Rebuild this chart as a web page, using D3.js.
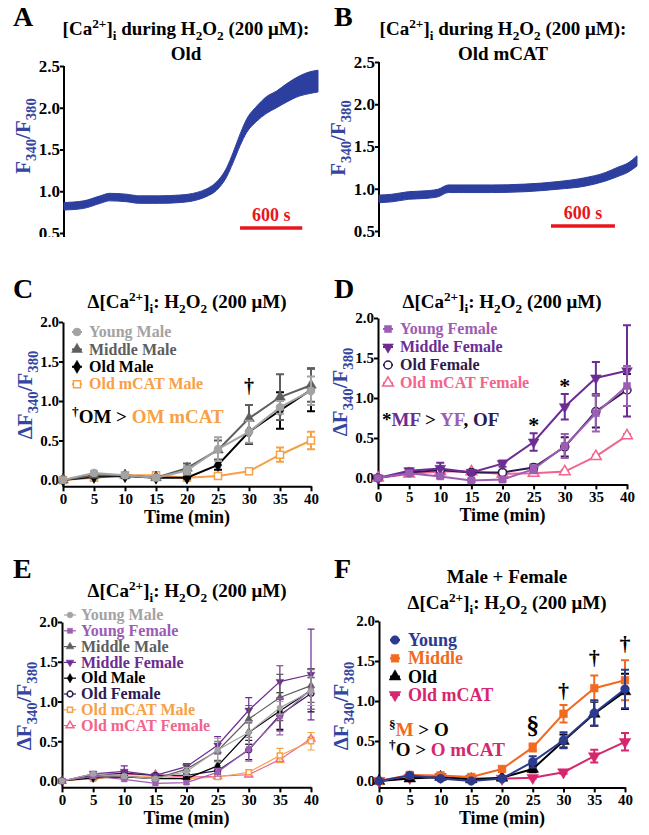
<!DOCTYPE html>
<html>
<head>
<meta charset="utf-8">
<script src="https://cdn.jsdelivr.net/npm/d3@7"></script>
<style>
  body { margin: 0; background: #fff; }
  svg { display: block; }
</style>
</head>
<body>
<svg id="fig" width="649" height="835"></svg>
<script>
// ---- data ----
const times = [0, 5, 10, 15, 20, 25, 30, 35, 40];
const yTicks = [0, 0.5, 1.0, 1.5, 2.0];
const traceTicks = [0.5, 1.0, 1.5, 2.0, 2.5];
const scaleBarSec = 600;

// A: Old, raw ratio trace (centre of the noisy band + half width)
const oldTraceTime = [0, 190, 350, 440, 600, 730, 920, 1120, 1280, 1370, 1470, 1570, 1630, 1700, 1760, 1860, 1950, 2050, 2150, 2270, 2370, 2450];
const oldTraceMean = [0.82, 0.84, 0.90, 0.93, 0.92, 0.90, 0.90, 0.91, 0.94, 0.98, 1.06, 1.23, 1.40, 1.62, 1.78, 1.93, 2.03, 2.10, 2.18, 2.26, 2.30, 2.32];
const oldTraceSpread = [0.045, 0.045, 0.045, 0.045, 0.045, 0.045, 0.045, 0.045, 0.045, 0.045, 0.05, 0.055, 0.06, 0.07, 0.08, 0.09, 0.10, 0.10, 0.11, 0.12, 0.13, 0.13];

// B: Old mCAT trace
const mcatTraceTime = [0, 120, 275, 430, 555, 650, 745, 1055, 1370, 1680, 1930, 2120, 2240, 2335, 2420];
const mcatTraceMean = [0.88, 0.89, 0.92, 0.93, 0.95, 1.00, 1.00, 1.00, 1.01, 1.04, 1.08, 1.14, 1.20, 1.25, 1.33];
const mcatTraceSpread = [0.045, 0.045, 0.045, 0.045, 0.045, 0.045, 0.045, 0.045, 0.045, 0.045, 0.05, 0.05, 0.055, 0.055, 0.06];

// C: males (mean, SEM)
const youngMale      = [0, 0.09, 0.06, 0.03, 0.12, 0.39, 0.61, 0.92, 1.13];
const youngMaleErr   = [0, 0.02, 0.02, 0.02, 0.05, 0.15, 0.14, 0.08, 0.18];
const middleMale     = [0, 0.06, 0.06, 0.03, 0.15, 0.38, 0.78, 1.05, 1.20];
const middleMaleErr  = [0, 0.02, 0.02, 0.02, 0.06, 0.12, 0.17, 0.29, 0.21];
const oldMale        = [0, 0.04, 0.05, 0.03, 0.03, 0.19, 0.61, 0.88, 1.14];
const oldMaleErr     = [0, 0.01, 0.02, 0.01, 0.01, 0.06, 0.15, 0.23, 0.27];
const mcatMale       = [0, 0.03, 0.06, 0.06, 0.03, 0.05, 0.11, 0.32, 0.50];
const mcatMaleErr    = [0, 0.02, 0.02, 0.02, 0.01, 0.03, 0.03, 0.09, 0.11];

// D: females
const youngFemale     = [0, 0.06, 0.02, -0.03, -0.02, 0.11, 0.40, 0.81, 1.15];
const youngFemaleErr  = [0, 0.02, 0.02, 0.02, 0.02, 0.05, 0.15, 0.23, 0.25];
const middleFemale    = [0, 0.09, 0.12, 0.07, 0.18, 0.45, 0.89, 1.25, 1.34];
const middleFemaleErr = [0, 0.03, 0.07, 0.02, 0.04, 0.11, 0.16, 0.20, 0.57];
const oldFemale       = [0, 0.07, 0.10, 0.07, 0.07, 0.13, 0.39, 0.83, 1.10];
const oldFemaleErr    = [0, 0.02, 0.03, 0.02, 0.02, 0.04, 0.12, 0.20, 0.20];
const mcatFemale      = [0, 0.05, 0.08, 0.08, 0.05, 0.06, 0.08, 0.27, 0.53];
const mcatFemaleErr   = [0, 0.01, 0.01, 0.01, 0.01, 0.01, 0.02, 0.02, 0.02];

// F: male + female
const young       = [0, 0.07, 0.03, 0.00, 0.03, 0.24, 0.51, 0.85, 1.15];
const youngErr    = [0, 0.02, 0.02, 0.01, 0.02, 0.07, 0.10, 0.16, 0.24];
const middle      = [0, 0.075, 0.07, 0.05, 0.15, 0.42, 0.84, 1.16, 1.26];
const middleErr   = [0, 0.02, 0.02, 0.02, 0.03, 0.05, 0.11, 0.16, 0.25];
const old         = [0, 0.03, 0.05, 0.02, 0.04, 0.15, 0.50, 0.84, 1.12];
const oldErr      = [0, 0.01, 0.02, 0.01, 0.01, 0.04, 0.08, 0.15, 0.22];
const oldMcat     = [0, 0.04, 0.05, 0.03, 0.03, 0.04, 0.11, 0.31, 0.49];
const oldMcatErr  = [0, 0.01, 0.01, 0.01, 0.01, 0.01, 0.02, 0.08, 0.11];

// ---- styles ----
const FONT = '"Liberation Serif","Times New Roman",serif';
const BLUE = '#3546a0';
const TRACE = '#2d3f9e';
const RED = '#e8161c';

const style = {
  'Young Male':      { color: '#a3a3a3', shape: d3.symbolCircle },
  'Middle Male':     { color: '#5e5e5e', shape: d3.symbolTriangle },
  'Old Male':        { color: '#000000', shape: d3.symbolDiamond },
  'Old mCAT Male':   { color: '#f7a045', shape: d3.symbolSquare, open: true },
  'Young Female':    { color: '#9d5db3', shape: d3.symbolSquare },
  'Middle Female':   { color: '#6d2c93', shape: d3.symbolTriangle, rot: 180 },
  'Old Female':      { color: '#2e1a50', shape: d3.symbolCircle, open: true },
  'Old mCAT Female': { color: '#f2648c', shape: d3.symbolTriangle, open: true },
  'Young':           { color: '#2b3a8e', shape: d3.symbolCircle },
  'Middle':          { color: '#f26a22', shape: d3.symbolSquare },
  'Old':             { color: '#000000', shape: d3.symbolTriangle },
  'Old mCAT':        { color: '#d6276e', shape: d3.symbolTriangle, rot: 180 }
};

const svg = d3.select('#fig')
  .attr('font-family', FONT)
  .attr('font-weight', 'bold');

svg.append('rect').attr('width', 649).attr('height', 835).attr('fill', '#fff');

// text with sub/superscripts; parts = [text, kind, colour]
function rich(text, parts, size) {
  let shift = 0;
  parts.forEach(([t, kind, col]) => {
    const off = kind === 'sub' ? size * 0.28 : kind === 'sup' ? -size * 0.38 : 0;
    const ts = text.append('tspan').text(t)
      .attr('dy', off - shift)
      .attr('font-size', kind ? size * 0.7 : size);
    if (col) ts.attr('fill', col);
    shift = off;
  });
  return text;
}

function addText(x, y, parts, size, anchor, fill) {
  const t = svg.append('text')
    .attr('x', x).attr('y', y)
    .attr('text-anchor', anchor || 'start')
    .attr('fill', fill || '#000')
    .attr('font-size', size);
  return rich(t, parts, size);
}

function yLabel(x, y, parts) {
  const t = svg.append('text')
    .attr('transform', `translate(${x},${y}) rotate(-90)`)
    .attr('text-anchor', 'middle')
    .attr('fill', BLUE)
    .attr('font-size', 21);
  rich(t, parts, 21);
}

function styleAxis(g, size) {
  g.attr('font-family', FONT).attr('font-size', size).attr('font-weight', 'bold');
  g.select('.domain').attr('stroke-width', 2);
  g.selectAll('.tick line').attr('stroke-width', 2);
  g.selectAll('.tick text').attr('fill', '#000');
}

const caTitle = [['Δ[Ca'], ['2+', 'sup'], [']'], ['i', 'sub'], [': H'], ['2', 'sub'], ['O'], ['2', 'sub'], [' (200 μM)']];
const duringTitle = [['[Ca'], ['2+', 'sup'], [']'], ['i', 'sub'], [' during H'], ['2', 'sub'], ['O'], ['2', 'sub'], [' (200 μM):']];
const ratioLabel = [['F'], ['340', 'sub'], ['/F'], ['380', 'sub']];
const deltaLabel = [['ΔF'], ['340', 'sub'], ['/F'], ['380', 'sub']];

// ---- A / B raw traces ----
function drawTrace(p) {
  const clipId = 'clip' + p.letter;
  svg.append('clipPath').attr('id', clipId)
    .append('rect').attr('x', p.left - 60).attr('y', 0).attr('width', 330).attr('height', 237);
  const g = svg.append('g').attr('clip-path', `url(#${clipId})`);

  const x = d3.scaleLinear().domain([0, p.time[p.time.length - 1]]).range([p.left, p.right]);
  const y = d3.scaleLinear().domain([0.5, 2.5]).range([p.bottom, p.top]);

  const ax = g.append('g').attr('transform', `translate(${p.left},0)`)
    .call(d3.axisLeft(y).tickValues(traceTicks).tickFormat(d3.format('.1f'))
      .tickSize(4).tickSizeOuter(0).tickPadding(0));
  styleAxis(ax, 17);
  ax.select('.domain').attr('d', `M0,${p.top}V${p.bottom + 6}`);

  const pts = p.time.map((t, i) => ({ t, m: p.mean[i], s: p.spread[i] }));
  g.append('path').datum(pts)
    .attr('d', d3.area().x(d => x(d.t)).y0(d => y(d.m - d.s)).y1(d => y(d.m + d.s)).curve(d3.curveMonotoneX))
    .attr('fill', TRACE).attr('stroke', TRACE).attr('stroke-width', 1);

  // scale bar
  g.append('line')
    .attr('x1', x(p.barStart)).attr('x2', x(p.barStart + scaleBarSec))
    .attr('y1', y(0.56)).attr('y2', y(0.56))
    .attr('stroke', RED).attr('stroke-width', 3.5);
  addText((x(p.barStart) + x(p.barStart + scaleBarSec)) / 2, y(0.56) - 7, [[scaleBarSec + ' s']], 18, 'middle', RED);

  addText(p.labelX, 26, [[p.letter]], 28);
  addText(p.titleX, 35, duringTitle, 19, 'middle');
  addText(p.titleX, 60, [[p.subtitle]], 19, 'middle');
  yLabel(p.left - 34, p.labelY, ratioLabel);
}

drawTrace({ letter: 'A', left: 64, right: 318, top: 66, bottom: 233, labelX: 13, titleX: 186, labelY: 136,
  subtitle: 'Old', time: oldTraceTime, mean: oldTraceMean, spread: oldTraceSpread, barStart: 1698 });
drawTrace({ letter: 'B', left: 379, right: 637, top: 62, bottom: 231, labelX: 334, titleX: 503, labelY: 138,
  subtitle: 'Old mCAT', time: mcatTraceTime, mean: mcatTraceMean, spread: mcatTraceSpread, barStart: 1613 });

// ---- C-F time courses ----
function drawGraph(p) {
  const x = d3.scaleLinear().domain([0, 40]).range([p.left, p.right]);
  const yb = p.zero + 0.08 * (p.zero - p.top) / 2;
  const y = d3.scaleLinear().domain([-0.08, 2]).range([yb, p.top]);

  const ay = svg.append('g').attr('transform', `translate(${p.left},0)`)
    .call(d3.axisLeft(y).tickValues(yTicks).tickFormat(d3.format('.1f'))
      .tickSize(4).tickSizeOuter(0).tickPadding(0));
  styleAxis(ay, 15);
  const axx = svg.append('g').attr('transform', `translate(0,${yb})`)
    .call(d3.axisBottom(x).tickValues(times).tickSize(5).tickSizeOuter(0).tickPadding(2));
  styleAxis(axx, 15);

  p.series.slice().reverse().forEach(s => {
    const st = style[s.name];
    const pts = times.map((t, i) => ({ t, v: s.vals[i], e: s.err[i] }));
    const g = svg.append('g');
    g.selectAll('path.err').data(pts.filter(d => d.e > 0)).join('path')
      .attr('class', 'err')
      .attr('d', d => {
        const cx = x(d.t), hi = y(d.v + d.e), lo = y(d.v - d.e);
        return `M${cx},${lo}V${hi}M${cx - p.cap},${hi}h${2 * p.cap}M${cx - p.cap},${lo}h${2 * p.cap}`;
      })
      .attr('fill', 'none').attr('stroke', st.color).attr('stroke-width', p.lw);
    g.append('path').datum(pts)
      .attr('d', d3.line().x(d => x(d.t)).y(d => y(d.v)))
      .attr('fill', 'none').attr('stroke', st.color).attr('stroke-width', p.lw);
    g.selectAll('path.mk').data(pts).join('path')
      .attr('class', 'mk')
      .attr('transform', d => `translate(${x(d.t)},${y(d.v)}) rotate(${st.rot || 0})`)
      .attr('d', d3.symbol(st.shape, p.msize))
      .attr('fill', st.open ? '#fff' : st.color)
      .attr('stroke', st.color).attr('stroke-width', st.open ? 1.5 : 0.5);
  });

  // legend
  p.series.forEach((s, i) => {
    const st = style[s.name];
    const ly = p.legY + i * p.legStep;
    svg.append('line')
      .attr('x1', p.legX - p.legLine).attr('x2', p.legX + p.legLine)
      .attr('y1', ly).attr('y2', ly)
      .attr('stroke', st.color).attr('stroke-width', p.lw);
    svg.append('path')
      .attr('transform', `translate(${p.legX},${ly}) rotate(${st.rot || 0})`)
      .attr('d', d3.symbol(st.shape, p.msize))
      .attr('fill', st.open ? '#fff' : st.color)
      .attr('stroke', st.color).attr('stroke-width', st.open ? 1.5 : 0.5);
    addText(p.legX + p.legGap, ly + p.legSize * 0.33, [[s.name]], p.legSize, 'start', st.color);
  });

  // marks of significance above time points
  (p.marks || []).forEach(m => {
    addText(x(m.t), m.y, [[m.sym]], m.size, 'middle');
  });

  addText(p.labelX, p.labelY, [[p.letter]], 28);
  p.titles.forEach(tl => addText(p.titleX, tl.y, tl.parts, 19, 'middle'));
  yLabel(p.left - 31, p.yLabelY, deltaLabel);
  addText((p.left + p.right) / 2, yb + 37, [['Time (min)']], 18, 'middle');
  (p.notes || []).forEach(n => addText(n.x, n.y, n.parts, 19));
}

const cMale = style['Old mCAT Male'].color;
const cMF = style['Middle Female'].color;
const cYF = style['Young Female'].color;
const cOF = style['Old Female'].color;

drawGraph({
  letter: 'C', labelX: 13, labelY: 298, titleX: 187,
  titles: [{ y: 308, parts: caTitle }],
  left: 63, right: 311, top: 322, zero: 480, yLabelY: 395,
  lw: 2, cap: 4, msize: 50,
  legX: 77, legY: 332, legStep: 17.4, legGap: 12, legSize: 16, legLine: 5,
  series: [
    { name: 'Young Male', vals: youngMale, err: youngMaleErr },
    { name: 'Middle Male', vals: middleMale, err: middleMaleErr },
    { name: 'Old Male', vals: oldMale, err: oldMaleErr },
    { name: 'Old mCAT Male', vals: mcatMale, err: mcatMaleErr }
  ],
  marks: [{ t: 30, y: 393, sym: '†', size: 20 }],
  notes: [{ x: 72, y: 423, parts: [['†', 'sup'], ['OM > '], ['OM mCAT', null, cMale]] }]
});

drawGraph({
  letter: 'D', labelX: 334, labelY: 298, titleX: 502,
  titles: [{ y: 308, parts: caTitle }],
  left: 378, right: 627, top: 318, zero: 478, yLabelY: 392,
  lw: 2, cap: 4, msize: 50,
  legX: 388, legY: 329, legStep: 18, legGap: 12, legSize: 16, legLine: 5,
  series: [
    { name: 'Young Female', vals: youngFemale, err: youngFemaleErr },
    { name: 'Middle Female', vals: middleFemale, err: middleFemaleErr },
    { name: 'Old Female', vals: oldFemale, err: oldFemaleErr },
    { name: 'Old mCAT Female', vals: mcatFemale, err: mcatFemaleErr }
  ],
  marks: [{ t: 25, y: 432, sym: '*', size: 22 }, { t: 30, y: 393, sym: '*', size: 22 }],
  notes: [{ x: 382, y: 426, parts: [['*'], ['MF', null, cMF], [' > '], ['YF', null, cYF], [', '], ['OF', null, cOF]] }]
});

drawGraph({
  letter: 'E', labelX: 13, labelY: 578, titleX: 187,
  titles: [{ y: 597, parts: caTitle }],
  left: 62, right: 311, top: 622, zero: 781, yLabelY: 706,
  lw: 1.2, cap: 3.5, msize: 26,
  legX: 70, legY: 615, legStep: 15.8, legGap: 11, legSize: 16, legLine: 6,
  series: [
    { name: 'Young Male', vals: youngMale, err: youngMaleErr },
    { name: 'Young Female', vals: youngFemale, err: youngFemaleErr },
    { name: 'Middle Male', vals: middleMale, err: middleMaleErr },
    { name: 'Middle Female', vals: middleFemale, err: middleFemaleErr },
    { name: 'Old Male', vals: oldMale, err: oldMaleErr },
    { name: 'Old Female', vals: oldFemale, err: oldFemaleErr },
    { name: 'Old mCAT Male', vals: mcatMale, err: mcatMaleErr },
    { name: 'Old mCAT Female', vals: mcatFemale, err: mcatFemaleErr }
  ]
});

drawGraph({
  letter: 'F', labelX: 334, labelY: 578, titleX: 507,
  titles: [{ y: 583, parts: [['Male + Female']] }, { y: 609, parts: caTitle }],
  left: 379, right: 625, top: 621, zero: 781, yLabelY: 706,
  lw: 2, cap: 4, msize: 60,
  legX: 395, legY: 640, legStep: 18.3, legGap: 13, legSize: 18, legLine: 5,
  series: [
    { name: 'Young', vals: young, err: youngErr },
    { name: 'Middle', vals: middle, err: middleErr },
    { name: 'Old', vals: old, err: oldErr },
    { name: 'Old mCAT', vals: oldMcat, err: oldMcatErr }
  ],
  marks: [
    { t: 25, y: 734, sym: '§', size: 26 },
    { t: 30, y: 698, sym: '†', size: 22 },
    { t: 35, y: 665, sym: '†', size: 22 },
    { t: 40, y: 651, sym: '†', size: 22 }
  ],
  notes: [
    { x: 389, y: 736, parts: [['§', 'sup'], ['M', null, style['Middle'].color], [' > O']] },
    { x: 389, y: 756, parts: [['†', 'sup'], ['O > '], ['O mCAT', null, style['Old mCAT'].color]] }
  ]
});
</script>
</body>
</html>
